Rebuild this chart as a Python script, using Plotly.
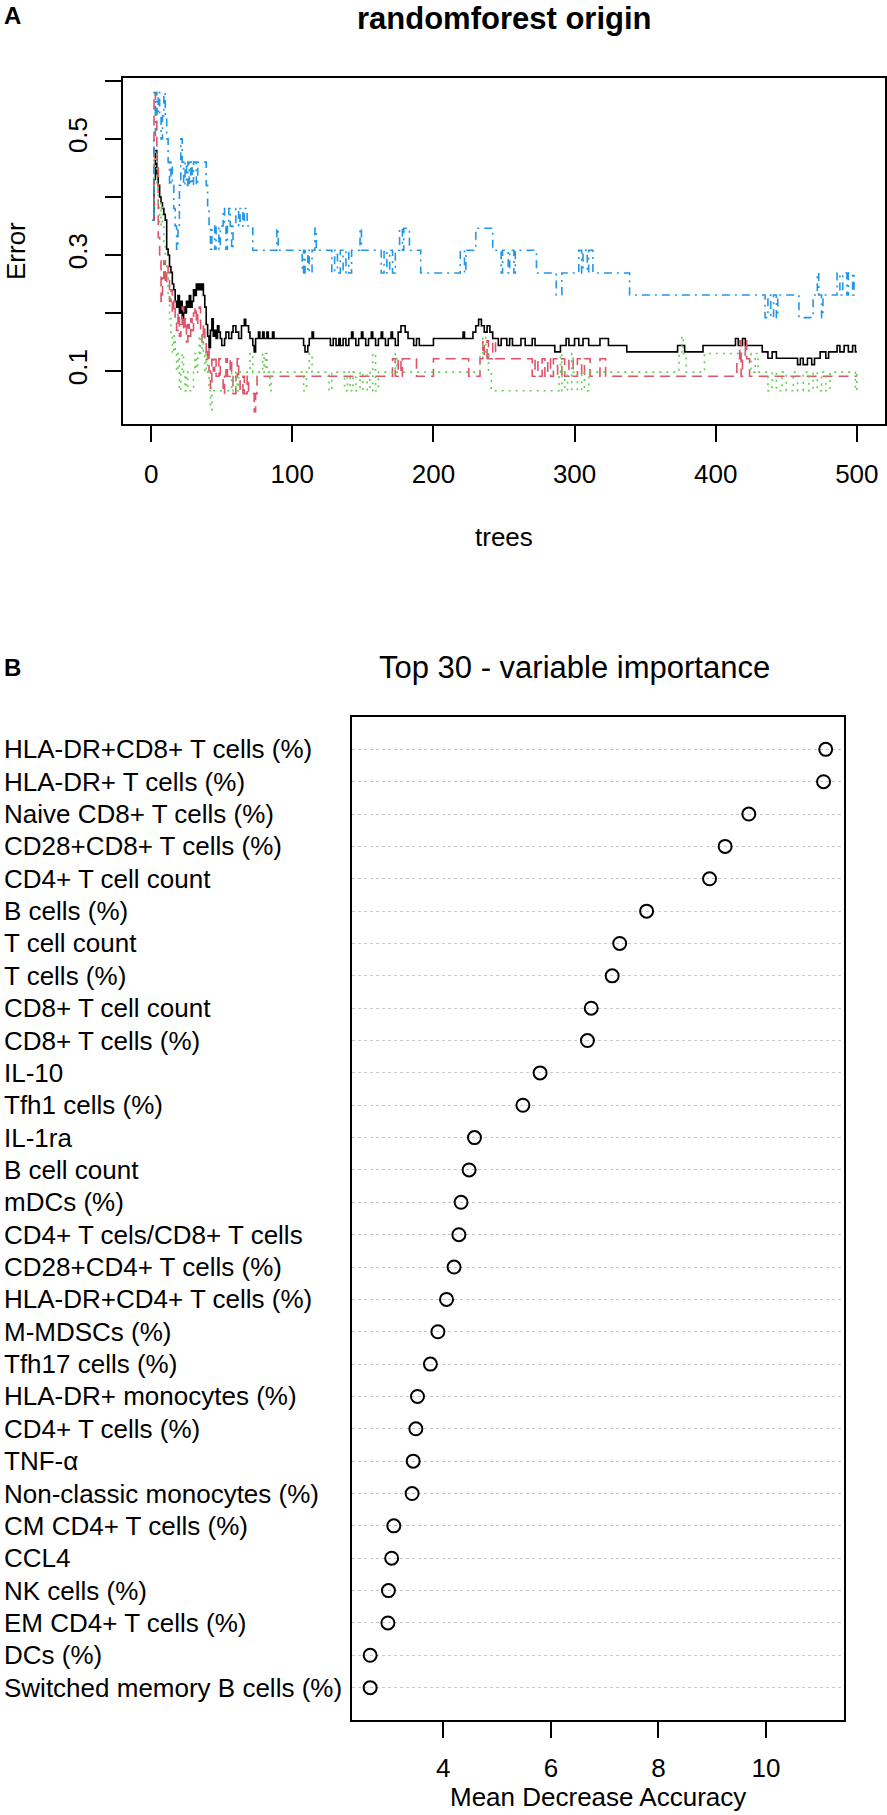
import plotly.graph_objects as go

# ---- Panel A: error rate vs number of trees (step change points) ----
oob_trees = [1, 2, 3, 4, 5, 6, 7, 8, 9, 10, 11, 12, 13, 14, 15, 16, 17, 18, 19, 20,
             21, 22, 23, 24, 25, 26, 27, 28, 29, 30, 31, 32, 33, 34, 35, 36, 37, 38, 39, 40,
             41, 42, 43, 44, 45, 46, 47, 48, 49, 50, 52, 53, 55, 57, 58, 60, 62, 64, 66, 67,
             69, 70, 72, 73, 74, 76, 77, 79, 80, 82, 83, 86, 87, 108, 109, 111, 112, 114, 115, 127,
             129, 131, 133, 134, 136, 138, 140, 142, 143, 145, 147, 149, 150, 152, 154, 156, 157, 159, 161, 163,
             164, 166, 168, 170, 171, 173, 175, 177, 180, 182, 186, 188, 190, 200, 221, 222, 228, 230, 232, 234,
             236, 238, 240, 242, 246, 248, 252, 254, 256, 262, 265, 270, 272, 286, 290, 294, 296, 300, 303, 306,
             310, 318, 324, 337, 373, 378, 391, 414, 416, 419, 421, 433, 437, 440, 443, 458, 460, 462, 465, 468,
             470, 474, 478, 480, 486, 488, 491, 494, 497, 499, 500]
oob_error = [0.36, 0.43, 0.48, 0.44, 0.42, 0.40, 0.39, 0.38, 0.37, 0.36, 0.31, 0.30, 0.28, 0.27, 0.25, 0.24, 0.22, 0.21, 0.23, 0.20,
             0.22, 0.19, 0.21, 0.20, 0.22, 0.21, 0.23, 0.21, 0.22, 0.24, 0.23, 0.25, 0.24, 0.25, 0.24, 0.25, 0.23, 0.21, 0.18, 0.16,
             0.14, 0.17, 0.19, 0.16, 0.17, 0.156, 0.178, 0.167, 0.156, 0.144, 0.156, 0.167, 0.156, 0.167, 0.178, 0.167, 0.156, 0.178, 0.189, 0.178,
             0.167, 0.156, 0.144, 0.133, 0.156, 0.167, 0.156, 0.167, 0.156, 0.167, 0.156, 0.167, 0.156, 0.144, 0.133, 0.144, 0.156, 0.167, 0.156, 0.144,
             0.156, 0.144, 0.156, 0.144, 0.156, 0.144, 0.156, 0.167, 0.156, 0.144, 0.156, 0.167, 0.156, 0.144, 0.156, 0.167, 0.156, 0.144, 0.156, 0.167,
             0.156, 0.144, 0.156, 0.167, 0.156, 0.144, 0.167, 0.178, 0.167, 0.156, 0.144, 0.156, 0.144, 0.156, 0.167, 0.156, 0.167, 0.178, 0.189, 0.178,
             0.167, 0.178, 0.167, 0.156, 0.144, 0.156, 0.144, 0.156, 0.144, 0.156, 0.144, 0.156, 0.144, 0.133, 0.144, 0.156, 0.144, 0.156, 0.144, 0.156,
             0.144, 0.156, 0.144, 0.133, 0.144, 0.133, 0.144, 0.156, 0.144, 0.156, 0.144, 0.133, 0.122, 0.133, 0.122, 0.111, 0.122, 0.111, 0.122, 0.111,
             0.122, 0.133, 0.122, 0.133, 0.144, 0.133, 0.144, 0.133, 0.144, 0.133, 0.133]

red_trees = [1, 2, 3, 4, 5, 6, 7, 8, 9, 10, 11, 12, 13, 14, 15, 16, 17, 18, 19, 20,
             21, 22, 23, 24, 25, 26, 27, 28, 29, 30, 31, 32, 33, 34, 35, 36, 37, 38, 39, 40,
             41, 42, 43, 44, 45, 46, 48, 49, 51, 52, 53, 54, 56, 57, 58, 60, 61, 62, 63, 65,
             66, 68, 69, 73, 74, 75, 171, 173, 175, 177, 178, 188, 200, 225, 233, 235, 236, 238, 239, 242,
             244, 270, 272, 274, 277, 279, 281, 283, 285, 288, 291, 293, 296, 299, 302, 305, 307, 311, 318, 322,
             415, 417, 418, 419, 421, 422, 424, 500]
red_error = [0.36, 0.58, 0.55, 0.45, 0.33, 0.29, 0.22, 0.26, 0.29, 0.25, 0.28, 0.27, 0.22, 0.24, 0.20, 0.22, 0.19, 0.17, 0.20, 0.16,
             0.18, 0.21, 0.17, 0.19, 0.15, 0.18, 0.16, 0.19, 0.17, 0.20, 0.21, 0.18, 0.20, 0.21, 0.17, 0.15, 0.18, 0.15, 0.12, 0.14,
             0.10, 0.07, 0.12, 0.10, 0.12, 0.091, 0.121, 0.091, 0.061, 0.091, 0.121, 0.091, 0.121, 0.091, 0.061, 0.091, 0.121, 0.091, 0.061, 0.091,
             0.061, 0.091, 0.061, 0.03, 0.061, 0.091, 0.121, 0.091, 0.121, 0.091, 0.121, 0.091, 0.121, 0.091, 0.121, 0.152, 0.121, 0.152, 0.121, 0.152,
             0.121, 0.091, 0.121, 0.091, 0.121, 0.091, 0.121, 0.091, 0.121, 0.091, 0.121, 0.091, 0.121, 0.091, 0.121, 0.091, 0.121, 0.091, 0.121, 0.091,
             0.121, 0.152, 0.091, 0.121, 0.152, 0.121, 0.091, 0.091]

green_trees = [1, 2, 3, 4, 5, 6, 7, 8, 9, 10, 11, 12, 13, 14, 15, 16, 17, 18, 19, 20,
               21, 22, 23, 24, 25, 26, 30, 31, 32, 33, 34, 35, 36, 37, 38, 39, 40, 41, 42, 43,
               57, 58, 60, 61, 62, 70, 72, 79, 80, 81, 82, 84, 85, 108, 110, 112, 114, 126, 128, 137,
               139, 141, 143, 145, 148, 150, 153, 155, 157, 159, 161, 173, 174, 233, 235, 237, 239, 241, 289, 290,
               291, 293, 295, 298, 299, 302, 305, 307, 310, 374, 376, 377, 379, 392, 425, 428, 430, 437, 440, 443,
               447, 450, 455, 458, 462, 466, 469, 472, 475, 478, 481, 499, 500]
green_error = [0.36, 0.45, 0.48, 0.42, 0.39, 0.35, 0.39, 0.35, 0.32, 0.29, 0.26, 0.23, 0.19, 0.16, 0.13, 0.16, 0.13, 0.10, 0.13, 0.066,
               0.10, 0.13, 0.098, 0.066, 0.098, 0.066, 0.098, 0.13, 0.098, 0.13, 0.16, 0.13, 0.16, 0.13, 0.098, 0.13, 0.098, 0.066, 0.033, 0.066,
               0.098, 0.066, 0.098, 0.066, 0.098, 0.13, 0.098, 0.13, 0.098, 0.13, 0.098, 0.066, 0.098, 0.066, 0.098, 0.13, 0.098, 0.066, 0.098, 0.066,
               0.098, 0.066, 0.098, 0.066, 0.098, 0.066, 0.098, 0.066, 0.13, 0.066, 0.098, 0.13, 0.098, 0.13, 0.16, 0.13, 0.098, 0.066, 0.098, 0.13,
               0.066, 0.098, 0.066, 0.13, 0.098, 0.066, 0.098, 0.066, 0.098, 0.13, 0.16, 0.13, 0.098, 0.13, 0.098, 0.13, 0.098, 0.066, 0.098, 0.066,
               0.098, 0.066, 0.098, 0.066, 0.098, 0.066, 0.098, 0.066, 0.098, 0.066, 0.098, 0.066, 0.098]

blue_trees = [1, 2, 3, 4, 5, 6, 7, 8, 9, 10, 11, 12, 13, 14, 15, 16, 17, 18, 19, 20,
              21, 22, 23, 24, 25, 26, 27, 28, 29, 30, 32, 33, 39, 40, 41, 42, 43, 45, 46, 48,
              49, 51, 52, 53, 54, 55, 56, 57, 58, 60, 62, 63, 65, 66, 68, 72, 89, 90, 107, 108,
              109, 111, 112, 114, 116, 117, 128, 130, 132, 134, 136, 138, 140, 142, 148, 149, 163, 165, 167, 169,
              171, 173, 176, 178, 179, 183, 191, 219, 222, 223, 230, 242, 248, 249, 253, 254, 257, 258, 273, 287,
              291, 303, 305, 306, 309, 310, 313, 339, 435, 437, 439, 441, 443, 444, 459, 469, 472, 473, 475, 476,
              486, 488, 490, 493, 494, 497, 498, 500]
blue_error = [0.36, 0.50, 0.58, 0.54, 0.58, 0.54, 0.50, 0.54, 0.58, 0.54, 0.50, 0.46, 0.42, 0.46, 0.42, 0.38, 0.35, 0.31, 0.35, 0.42,
              0.50, 0.46, 0.42, 0.46, 0.42, 0.46, 0.42, 0.46, 0.42, 0.46, 0.42, 0.46, 0.42, 0.38, 0.35, 0.31, 0.35, 0.31, 0.35, 0.31,
              0.35, 0.38, 0.35, 0.31, 0.35, 0.38, 0.35, 0.31, 0.35, 0.38, 0.35, 0.38, 0.35, 0.38, 0.35, 0.308, 0.346, 0.308, 0.269, 0.308,
              0.269, 0.308, 0.269, 0.308, 0.346, 0.308, 0.269, 0.308, 0.269, 0.308, 0.269, 0.308, 0.269, 0.308, 0.346, 0.308, 0.269, 0.308, 0.269, 0.308,
              0.269, 0.308, 0.346, 0.308, 0.346, 0.308, 0.269, 0.308, 0.269, 0.308, 0.346, 0.308, 0.269, 0.308, 0.269, 0.308, 0.269, 0.308, 0.269, 0.231,
              0.269, 0.308, 0.269, 0.308, 0.269, 0.308, 0.269, 0.231, 0.192, 0.231, 0.192, 0.231, 0.192, 0.231, 0.192, 0.231, 0.269, 0.231, 0.192, 0.231,
              0.269, 0.231, 0.269, 0.231, 0.269, 0.231, 0.269, 0.269]

error_ticks = [0.1, 0.2, 0.3, 0.4, 0.5, 0.6]
error_tick_labels = ["0.1", "", "0.3", "", "0.5", ""]
tree_ticks = [0, 100, 200, 300, 400, 500]

# ---- Panel B: top 30 variable importance ----
variables = [
    "HLA-DR+CD8+ T cells (%)",
    "HLA-DR+ T cells (%)",
    "Naive CD8+ T cells (%)",
    "CD28+CD8+ T cells (%)",
    "CD4+ T cell count",
    "B cells (%)",
    "T cell count",
    "T cells (%)",
    "CD8+ T cell count",
    "CD8+ T cells (%)",
    "IL-10",
    "Tfh1 cells (%)",
    "IL-1ra",
    "B cell count",
    "mDCs (%)",
    "CD4+ T cels/CD8+ T cells",
    "CD28+CD4+ T cells (%)",
    "HLA-DR+CD4+ T cells (%)",
    "M-MDSCs (%)",
    "Tfh17 cells (%)",
    "HLA-DR+ monocytes (%)",
    "CD4+ T cells (%)",
    "TNF-α",
    "Non-classic monocytes (%)",
    "CM CD4+ T cells (%)",
    "CCL4",
    "NK cells (%)",
    "EM CD4+ T cells (%)",
    "DCs (%)",
    "Switched memory B cells (%)",
]
mean_decrease_accuracy = [11.11, 11.07, 9.68, 9.24, 8.95, 7.78, 7.28, 7.14, 6.75, 6.68,
                          5.80, 5.48, 4.58, 4.48, 4.33, 4.29, 4.20, 4.06, 3.90, 3.76,
                          3.52, 3.49, 3.44, 3.42, 3.08, 3.04, 2.98, 2.97, 2.64, 2.64]
mda_ticks = [4, 6, 8, 10]

W, H = 887, 1815
FONT = "Liberation Sans, Arial, sans-serif"

fig = go.Figure()

# error lines (same order and line types as R's matplot)
series = [
    (oob_trees, oob_error, "black", "solid"),
    (red_trees, red_error, "#DF536B", "10px,6px"),
    (green_trees, green_error, "#61D04F", "2px,5px"),
    (blue_trees, blue_error, "#2297E6", "2px,5px,8px,5px"),
]
for trees, err, color, dash in series:
    fig.add_trace(go.Scatter(
        x=trees, y=err, mode="lines", line_shape="hv",
        line=dict(color=color, width=1.6, dash=dash),
        xaxis="x", yaxis="y", showlegend=False,
    ))

# dotchart
rows = list(range(len(variables), 0, -1))
fig.add_trace(go.Scatter(
    x=mean_decrease_accuracy, y=rows, mode="markers",
    marker=dict(symbol="circle-open", size=13, color="black", line=dict(width=2, color="black")),
    xaxis="x2", yaxis="y2", showlegend=False,
))

axis_common = dict(
    showline=True, linecolor="black", linewidth=2, mirror=True,
    ticks="outside", ticklen=16, tickwidth=2, tickcolor="black",
    showgrid=False, zeroline=False,
    tickfont=dict(family=FONT, size=26, color="black"),
)

fig.update_layout(
    width=W, height=H,
    margin=dict(l=0, r=0, t=0, b=0),
    paper_bgcolor="white", plot_bgcolor="white",
    font=dict(family=FONT, color="black"),
    xaxis=dict(axis_common, domain=[123 / W, 885 / W], range=[-19.96, 519.96],
               tickvals=tree_ticks, anchor="y", ticklabelstandoff=10),
    yaxis=dict(axis_common, domain=[1 - 424 / H, 1 - 78 / H], range=[0.0086, 0.605],
               tickvals=error_ticks, ticktext=error_tick_labels, tickangle=-90,
               anchor="x", ticklabelstandoff=8),
    xaxis2=dict(axis_common, domain=[351.7 / W, 844 / W], range=[2.297, 11.45],
                tickvals=mda_ticks, anchor="y2", ticklabelstandoff=8),
    yaxis2=dict(showline=True, linecolor="black", linewidth=2, mirror=True,
                domain=[1 - 1720 / H, 1 - 717 / H], range=[0, len(variables) + 1],
                tickvals=rows, showticklabels=False, ticks="",
                showgrid=True, gridcolor="#C8C8C8", gridwidth=1, griddash="dot",
                zeroline=False, anchor="x2"),
)

annotations = [
    dict(text="<b>A</b>", x=2 / W, y=1 - 16 / H, xanchor="left", yanchor="middle", font_size=24),
    dict(text="<b>randomforest origin</b>", x=504 / W, y=1 - 18 / H, xanchor="center", yanchor="middle", font_size=31),
    dict(text="Error", x=16 / W, y=1 - 251 / H, xanchor="center", yanchor="middle", textangle=-90, font_size=26),
    dict(text="trees", x=504 / W, y=1 - 537 / H, xanchor="center", yanchor="middle", font_size=26),
    dict(text="<b>B</b>", x=2 / W, y=1 - 667 / H, xanchor="left", yanchor="middle", font_size=24),
    dict(text="Top 30 - variable importance", x=377 / W, y=1 - 667 / H, xanchor="left", yanchor="middle", font_size=31),
    dict(text="Mean Decrease Accuracy", x=598 / W, y=1 - 1797 / H, xanchor="center", yanchor="middle", font_size=26),
]
for a in annotations:
    a.update(xref="paper", yref="paper", showarrow=False)
    a["font"] = dict(family=FONT, size=a.pop("font_size"), color="black")

# row labels, left aligned like R's dotchart
for label, row in zip(variables, rows):
    annotations.append(dict(
        text=label, x=2 / W, y=row, xref="paper", yref="y2",
        xanchor="left", yanchor="middle", showarrow=False,
        font=dict(family=FONT, size=26, color="black"),
    ))

fig.update_layout(annotations=annotations)

# drop the default page margin so the figure fills the window exactly
fig.write_html(
    "out.html",
    config={"displayModeBar": False},
    post_script="document.body.style.margin='0px';document.body.style.overflow='hidden';",
)
